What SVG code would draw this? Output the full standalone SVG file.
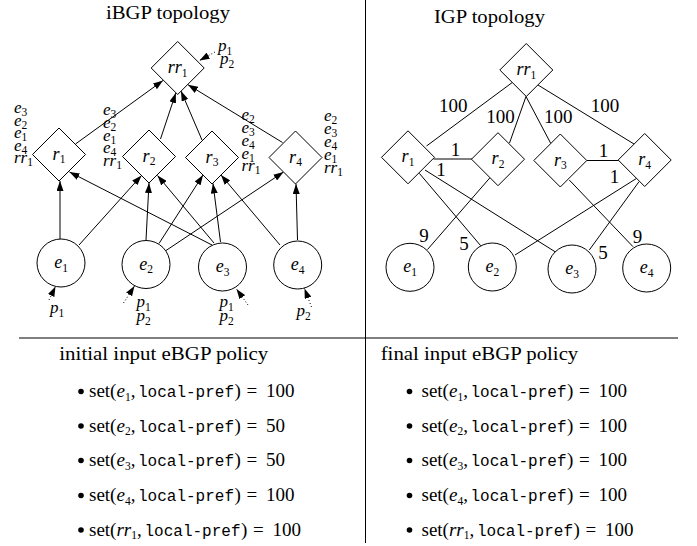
<svg xmlns="http://www.w3.org/2000/svg" width="697" height="546" viewBox="0 0 697 546">
<style>
.ln{stroke:#000;stroke-width:1;fill:none}
.arr{marker-end:url(#ah)}
.dot{stroke-dasharray:1 2.2}
.nd{fill:#fff;stroke:#000;stroke-width:1}
.t{font-family:"Liberation Serif","Times New Roman",serif;font-size:19px;fill:#000}
.i{font-style:italic}
.m{font-family:"Liberation Mono","Courier New",monospace;font-size:16px}
.s{font-size:11.5px;font-style:normal}
.c{text-anchor:middle}
.lb{font-family:"Liberation Serif","Times New Roman",serif;font-size:18px;font-style:italic;fill:#000}
.cl{font-size:17px}
</style>
<defs>
<marker id="ah" viewBox="0 0 10 7" refX="10" refY="3.5" markerWidth="10" markerHeight="7" markerUnits="userSpaceOnUse" orient="auto">
<path d="M0,0 L10,3.5 L0,7 Z" fill="#000"/>
</marker>
<polygon id="dia" points="0,-26.5 26.5,0 0,26.5 -26.5,0"/>
</defs>
<rect width="697" height="546" fill="#fff"/>

<!-- frame lines -->
<g id="frame">
<line class="ln" x1="365.5" y1="0" x2="365.5" y2="543"/>
<line class="ln" x1="19" y1="338" x2="678" y2="338"/>
</g>

<!-- titles -->
<text class="t" x="106" y="19" textLength="124" lengthAdjust="spacingAndGlyphs">iBGP topology</text>
<text class="t" x="434" y="23" textLength="111" lengthAdjust="spacingAndGlyphs">IGP topology</text>

<!-- iBGP connectors -->
<g id="ibgp-edges">
<line class="ln arr" x1="75.5" y1="144" x2="163" y2="80.5"/>
<line class="ln arr" x1="160.5" y1="139" x2="175.8" y2="93"/>
<line class="ln arr" x1="202" y1="140" x2="181" y2="91"/>
<line class="ln arr" x1="282.5" y1="142.5" x2="188" y2="84.7"/>
<line class="ln arr" x1="60" y1="239" x2="60" y2="181"/>
<line class="ln arr" x1="79" y1="245" x2="141.5" y2="175.5"/>
<line class="ln arr" x1="146" y1="240" x2="149" y2="183"/>
<line class="ln arr" x1="159" y1="243.5" x2="203" y2="175"/>
<line class="ln arr" x1="166" y1="250.5" x2="283.5" y2="172"/>
<line class="ln arr" x1="212" y1="245" x2="69.5" y2="172"/>
<line class="ln arr" x1="214" y1="243" x2="157.5" y2="175.5"/>
<line class="ln arr" x1="220.5" y1="242" x2="213" y2="183.5"/>
<line class="ln arr" x1="280" y1="245" x2="221" y2="175"/>
<line class="ln arr" x1="297.5" y1="240" x2="296" y2="184"/>
<!-- input arrows -->
<line class="ln dot arr" x1="215" y1="52" x2="199.5" y2="60.5"/>
<line class="ln dot arr" x1="49" y1="300" x2="55.5" y2="286.5"/>
<line class="ln dot arr" x1="123.5" y1="303" x2="134.5" y2="286"/>
<line class="ln dot arr" x1="248" y1="305" x2="236.5" y2="289"/>
<line class="ln dot arr" x1="311.5" y1="307" x2="304.5" y2="288.5"/>
</g>

<!-- iBGP nodes -->
<g id="ibgp-rr1">
<use href="#dia" class="nd" x="177.7" y="68"/>
<text class="lb c" x="177.7" y="73">rr<tspan class="s" dy="3.5">1</tspan></text>
</g>
<g id="ibgp-r1">
<use href="#dia" class="nd" x="59" y="154.5"/>
<text class="lb c" x="59" y="159.5">r<tspan class="s" dy="3.5">1</tspan></text>
</g>
<g id="ibgp-r2">
<use href="#dia" class="nd" x="149" y="156.5"/>
<text class="lb c" x="149" y="161.5">r<tspan class="s" dy="3.5">2</tspan></text>
</g>
<g id="ibgp-r3">
<use href="#dia" class="nd" x="212" y="157.5"/>
<text class="lb c" x="212" y="162.5">r<tspan class="s" dy="3.5">3</tspan></text>
</g>
<g id="ibgp-r4">
<use href="#dia" class="nd" x="295.5" y="157.5"/>
<text class="lb c" x="295.5" y="162.5">r<tspan class="s" dy="3.5">4</tspan></text>
</g>
<g id="ibgp-e1">
<circle class="nd" cx="61" cy="263" r="24"/>
<text class="lb c" x="61" y="268">e<tspan class="s" dy="3.5">1</tspan></text>
</g>
<g id="ibgp-e2">
<circle class="nd" cx="146" cy="264.5" r="24"/>
<text class="lb c" x="146" y="269.5">e<tspan class="s" dy="3.5">2</tspan></text>
</g>
<g id="ibgp-e3">
<circle class="nd" cx="222.5" cy="267" r="24"/>
<text class="lb c" x="222.5" y="272">e<tspan class="s" dy="3.5">3</tspan></text>
</g>
<g id="ibgp-e4">
<circle class="nd" cx="297.7" cy="265" r="24"/>
<text class="lb c" x="297.7" y="270">e<tspan class="s" dy="3.5">4</tspan></text>
</g>

<!-- iBGP route labels -->
<g id="ibgp-labels">
<text class="lb cl" x="218" y="51">p<tspan class="s" dy="3.5">1</tspan></text>
<text class="lb cl" x="220" y="64">p<tspan class="s" dy="3.5">2</tspan></text>
<text class="lb cl" x="50" y="313">p<tspan class="s" dy="3.5">1</tspan></text>
<text class="lb cl" x="136.5" y="307">p<tspan class="s" dy="3.5">1</tspan></text>
<text class="lb cl" x="136.5" y="321">p<tspan class="s" dy="3.5">2</tspan></text>
<text class="lb cl" x="219.5" y="307">p<tspan class="s" dy="3.5">1</tspan></text>
<text class="lb cl" x="219.5" y="321">p<tspan class="s" dy="3.5">2</tspan></text>
<text class="lb cl" x="296.5" y="316">p<tspan class="s" dy="3.5">2</tspan></text>

<text class="lb cl" x="14" y="113">e<tspan class="s" dy="3">3</tspan></text>
<text class="lb cl" x="14" y="125.5">e<tspan class="s" dy="3">2</tspan></text>
<text class="lb cl" x="14" y="138">e<tspan class="s" dy="3">1</tspan></text>
<text class="lb cl" x="14" y="150.5">e<tspan class="s" dy="3">4</tspan></text>
<text class="lb cl" x="14" y="163">rr<tspan class="s" dy="3">1</tspan></text>

<text class="lb cl" x="103" y="115">e<tspan class="s" dy="3">3</tspan></text>
<text class="lb cl" x="103" y="128">e<tspan class="s" dy="3">2</tspan></text>
<text class="lb cl" x="103" y="140.5">e<tspan class="s" dy="3">1</tspan></text>
<text class="lb cl" x="103" y="153">e<tspan class="s" dy="3">4</tspan></text>
<text class="lb cl" x="103" y="165.5">rr<tspan class="s" dy="3">1</tspan></text>

<text class="lb cl" x="241.5" y="120">e<tspan class="s" dy="3">2</tspan></text>
<text class="lb cl" x="241.5" y="133">e<tspan class="s" dy="3">3</tspan></text>
<text class="lb cl" x="241.5" y="146">e<tspan class="s" dy="3">4</tspan></text>
<text class="lb cl" x="241.5" y="159">e<tspan class="s" dy="3">1</tspan></text>
<text class="lb cl" x="241.5" y="171">rr<tspan class="s" dy="3">1</tspan></text>

<text class="lb cl" x="324" y="121">e<tspan class="s" dy="3">2</tspan></text>
<text class="lb cl" x="324" y="134">e<tspan class="s" dy="3">3</tspan></text>
<text class="lb cl" x="324" y="147">e<tspan class="s" dy="3">4</tspan></text>
<text class="lb cl" x="324" y="160">e<tspan class="s" dy="3">1</tspan></text>
<text class="lb cl" x="324" y="172.5">rr<tspan class="s" dy="3">1</tspan></text>
</g>

<!-- IGP connectors -->
<g id="igp-edges">
<line class="ln" x1="512" y1="82.7" x2="426.5" y2="146"/>
<line class="ln" x1="526" y1="96.5" x2="509.5" y2="143"/>
<line class="ln" x1="526" y1="96.5" x2="550.7" y2="143.3"/>
<line class="ln" x1="538" y1="85" x2="634" y2="144"/>
<line class="ln" x1="433.5" y1="159" x2="472" y2="159"/>
<line class="ln" x1="586.5" y1="160.5" x2="618.5" y2="160.5"/>
<line class="ln" x1="419.3" y1="173.3" x2="480.7" y2="245.7"/>
<line class="ln" x1="425" y1="170" x2="555" y2="251.7"/>
<line class="ln" x1="490" y1="177.7" x2="427.5" y2="249.5"/>
<line class="ln" x1="569.3" y1="180" x2="633" y2="246.7"/>
<line class="ln" x1="636.7" y1="178.3" x2="515" y2="255"/>
<line class="ln" x1="639" y1="181.7" x2="589.3" y2="250"/>
<g class="t c">
<text x="453.3" y="111.5">100</text>
<text x="500.5" y="123">100</text>
<text x="558.3" y="123">100</text>
<text x="605" y="111.5">100</text>
<text x="455.5" y="155.5">1</text>
<text x="441" y="176">1</text>
<text x="603.5" y="156.5">1</text>
<text x="614.5" y="182.5">1</text>
<text x="424" y="241.5">9</text>
<text x="464" y="250">5</text>
<text x="603" y="259">5</text>
<text x="637.5" y="242.5">9</text>
</g>
</g>

<!-- IGP nodes -->
<g id="igp-rr1">
<use href="#dia" class="nd" x="526.3" y="70"/>
<text class="lb c" x="526.3" y="75">rr<tspan class="s" dy="3.5">1</tspan></text>
</g>
<g id="igp-r1">
<use href="#dia" class="nd" x="408" y="157.3"/>
<text class="lb c" x="408" y="162.3">r<tspan class="s" dy="3.5">1</tspan></text>
</g>
<g id="igp-r2">
<use href="#dia" class="nd" x="498" y="159.2"/>
<text class="lb c" x="498" y="164.2">r<tspan class="s" dy="3.5">2</tspan></text>
</g>
<g id="igp-r3">
<use href="#dia" class="nd" x="560.3" y="160.5"/>
<text class="lb c" x="560.3" y="165.5">r<tspan class="s" dy="3.5">3</tspan></text>
</g>
<g id="igp-r4">
<use href="#dia" class="nd" x="644.7" y="160"/>
<text class="lb c" x="644.7" y="165">r<tspan class="s" dy="3.5">4</tspan></text>
</g>
<g id="igp-e1">
<circle class="nd" cx="410" cy="267.3" r="24"/>
<text class="lb c" x="410" y="272.3">e<tspan class="s" dy="3.5">1</tspan></text>
</g>
<g id="igp-e2">
<circle class="nd" cx="492.3" cy="267" r="24"/>
<text class="lb c" x="492.3" y="272">e<tspan class="s" dy="3.5">2</tspan></text>
</g>
<g id="igp-e3">
<circle class="nd" cx="572" cy="269" r="24"/>
<text class="lb c" x="572" y="274">e<tspan class="s" dy="3.5">3</tspan></text>
</g>
<g id="igp-e4">
<circle class="nd" cx="646.7" cy="268" r="24"/>
<text class="lb c" x="646.7" y="273">e<tspan class="s" dy="3.5">4</tspan></text>
</g>

<!-- policies -->
<g id="policy-initial">
<text class="t" x="59.3" y="360" textLength="209" lengthAdjust="spacingAndGlyphs">initial input eBGP policy</text>
<circle cx="81" cy="391.5" r="2.8"/>
<circle cx="81" cy="426" r="2.8"/>
<circle cx="81" cy="460.5" r="2.8"/>
<circle cx="81" cy="495.5" r="2.8"/>
<circle cx="81" cy="530" r="2.8"/>
<text class="t" y="397"><tspan x="89">set(</tspan><tspan class="i">e</tspan><tspan class="s" dy="3.5">1</tspan><tspan dy="-3.5">,</tspan><tspan class="m" x="138">local-pref</tspan><tspan x="234.5">)</tspan><tspan x="246.5">=</tspan><tspan x="266">100</tspan></text>
<text class="t" y="431.5"><tspan x="89">set(</tspan><tspan class="i">e</tspan><tspan class="s" dy="3.5">2</tspan><tspan dy="-3.5">,</tspan><tspan class="m" x="138">local-pref</tspan><tspan x="234.5">)</tspan><tspan x="246.5">=</tspan><tspan x="266">50</tspan></text>
<text class="t" y="466"><tspan x="89">set(</tspan><tspan class="i">e</tspan><tspan class="s" dy="3.5">3</tspan><tspan dy="-3.5">,</tspan><tspan class="m" x="138">local-pref</tspan><tspan x="234.5">)</tspan><tspan x="246.5">=</tspan><tspan x="266">50</tspan></text>
<text class="t" y="501"><tspan x="89">set(</tspan><tspan class="i">e</tspan><tspan class="s" dy="3.5">4</tspan><tspan dy="-3.5">,</tspan><tspan class="m" x="138">local-pref</tspan><tspan x="234.5">)</tspan><tspan x="246.5">=</tspan><tspan x="266">100</tspan></text>
<text class="t" y="535.5"><tspan x="89">set(</tspan><tspan class="i">rr</tspan><tspan class="s" dy="3.5">1</tspan><tspan dy="-3.5">,</tspan><tspan class="m" x="144.5">local-pref</tspan><tspan x="241">)</tspan><tspan x="253">=</tspan><tspan x="272.5">100</tspan></text>
</g>
<g id="policy-final">
<text class="t" x="380.7" y="360" textLength="197.6" lengthAdjust="spacingAndGlyphs">final input eBGP policy</text>
<circle cx="409.5" cy="391.5" r="2.8"/>
<circle cx="409.5" cy="426" r="2.8"/>
<circle cx="409.5" cy="460.5" r="2.8"/>
<circle cx="409.5" cy="495.5" r="2.8"/>
<circle cx="409.5" cy="530" r="2.8"/>
<text class="t" y="397"><tspan x="421.5">set(</tspan><tspan class="i">e</tspan><tspan class="s" dy="3.5">1</tspan><tspan dy="-3.5">,</tspan><tspan class="m" x="470.5">local-pref</tspan><tspan x="567">)</tspan><tspan x="579">=</tspan><tspan x="598.5">100</tspan></text>
<text class="t" y="431.5"><tspan x="421.5">set(</tspan><tspan class="i">e</tspan><tspan class="s" dy="3.5">2</tspan><tspan dy="-3.5">,</tspan><tspan class="m" x="470.5">local-pref</tspan><tspan x="567">)</tspan><tspan x="579">=</tspan><tspan x="598.5">100</tspan></text>
<text class="t" y="466"><tspan x="421.5">set(</tspan><tspan class="i">e</tspan><tspan class="s" dy="3.5">3</tspan><tspan dy="-3.5">,</tspan><tspan class="m" x="470.5">local-pref</tspan><tspan x="567">)</tspan><tspan x="579">=</tspan><tspan x="598.5">100</tspan></text>
<text class="t" y="501"><tspan x="421.5">set(</tspan><tspan class="i">e</tspan><tspan class="s" dy="3.5">4</tspan><tspan dy="-3.5">,</tspan><tspan class="m" x="470.5">local-pref</tspan><tspan x="567">)</tspan><tspan x="579">=</tspan><tspan x="598.5">100</tspan></text>
<text class="t" y="535.5"><tspan x="421.5">set(</tspan><tspan class="i">rr</tspan><tspan class="s" dy="3.5">1</tspan><tspan dy="-3.5">,</tspan><tspan class="m" x="477">local-pref</tspan><tspan x="573.5">)</tspan><tspan x="585.5">=</tspan><tspan x="605">100</tspan></text>
</g>
</svg>
